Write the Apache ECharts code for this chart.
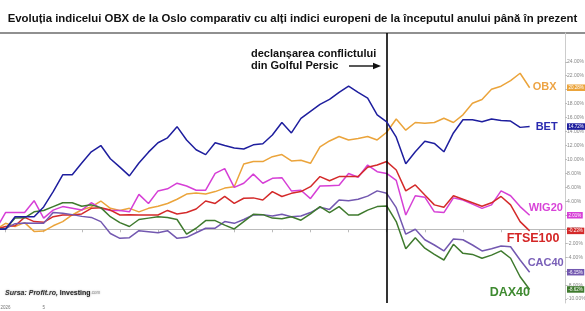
<!DOCTYPE html>
<html><head><meta charset="utf-8">
<script src="https://cdn.jsdelivr.net/npm/echarts@6/dist/echarts.min.js"></script>
<style>html,body{margin:0;padding:0;background:#fff}#c{width:585px;height:311px}</style>
</head><body><div id="c"></div>
<script>
// ---- data (index = trading day since start of year) ----
const seriesNames = ['OBX', 'BET', 'WIG20', 'FTSE100', 'CAC40', 'DAX40'];
const obx = [0, 0.86, 0.4, 0.95, -0.3, -0.25, 0.5, 1.1, 2.05, 2.8, 3.2, 4.05, 3.0, 2.7, 3.0,
  2.5, 3.0, 3.3, 3.7, 4.3, 5.05, 5.2, 5.05, 5.4, 5.9, 6.1, 9.35, 9.7, 9.7,
  10.4, 10.7, 9.8, 9.9, 9.45, 11.8, 12.65, 13.3, 12.8, 13.0, 13.3, 12.8, 13.9, 15.8,
  14.2, 15.3, 15.2, 15.3, 15.9, 15.3, 16.4, 18.05, 18.6, 20.05, 20.5, 21.3, 22.35, 20.28];
const bet = [0, 0, 1.8, 1.8, 1.8, 3.2, 5.4, 7.8, 7.8, 9.5, 11.1, 12.0, 10.1, 8.9, 7.65,
  9.5, 11.05, 12.4, 13.1, 14.7, 12.8, 11.4, 10.7, 12.4, 12.0, 11.65, 11.5, 12.1, 12.25,
  13.5, 15.3, 13.8, 15.9, 16.9, 17.9, 18.6, 19.6, 20.5, 19.6, 18.8, 16.4, 15.4, 13.2,
  9.4, 11.1, 12.6, 12.3, 11.1, 13.8, 15.7, 15.7, 15.4, 15.8, 15.6, 15.5, 14.6, 14.72];
const wig20 = [0, 2.4, 2.4, 2.4, 4.1, 1.6, 2.75, 3.25, 3.0, 2.75, 3.8, 3.0, 2.7, 2.7, 2.5,
  5.0, 3.7, 5.5, 5.8, 6.6, 6.2, 5.6, 5.6, 8.0, 8.7, 6.0, 6.6, 7.9, 6.6,
  7.3, 7.4, 5.5, 5.6, 4.4, 6.2, 6.25, 6.3, 8.0, 7.45, 9.2, 8.25, 8.0, 7.0,
  2.05, 4.8, 4.6, 2.5, 2.4, 4.5, 4.2, 3.6, 3.0, 3.5, 5.5, 4.8, 3.25, 2.01];
const ftse100 = [0, 0.4, 0.5, 1.7, 1.1, 1.0, 1.8, 2.05, 2.05, 2.2, 3.0, 3.1, 2.75, 2.05, 2.1,
  2.05, 2.05, 2.05, 2.7, 2.2, 2.4, 2.9, 4.05, 3.7, 4.7, 3.7, 4.45, 4.5, 4.2,
  5.4, 4.7, 5.15, 5.4, 6.1, 7.55, 6.95, 7.55, 7.55, 7.55, 8.9, 9.2, 9.7, 8.5,
  5.5, 6.35, 4.9, 3.5, 3.15, 4.8, 4.3, 3.8, 3.3, 3.8, 4.7, 3.5, 1.1, -0.23];
const cac40 = [0, 0.1, 0.8, 0.9, 0.85, 0.85, 2.4, 2.3, 2.1, 1.85, 1.7, 1.1, -0.6, -1.3, -1.2,
  -0.2, -0.35, -0.5, -0.2, -1.3, -1.15, -0.5, 0.15, 0.15, 1.1, 0.85, 1.4, 2.05, 2.1,
  1.9, 2.15, 1.8, 1.9, 2.4, 3.15, 2.85, 4.2, 4.1, 4.3, 4.75, 5.5, 5.15, 3.1,
  -0.7, 0.0, -1.5, -2.25, -3.1, -1.4, -1.5, -2.25, -3.1, -2.8, -2.4, -2.5, -4.4, -6.15];
const dax40 = [0, 0.05, 1.6, 1.65, 2.5, 2.7, 3.25, 3.8, 3.8, 3.3, 3.5, 3.1, 1.8, 0.95, 0.4,
  1.4, 1.6, 1.8, 1.7, 1.4, -0.7, 0.15, 1.25, 1.25, 0.6, 0.05, 1.1, 2.15, 2.1,
  1.6, 1.5, 1.8, 1.3, 2.2, 3.25, 2.4, 3.25, 2.05, 2.05, 2.75, 3.25, 3.35, 1.1,
  -2.8, -1.2, -2.7, -3.6, -4.4, -2.15, -3.45, -3.6, -4.15, -3.7, -3.1, -4.15, -6.8, -8.62];
const conflictIndex = 41;
const xTickIndex = [1, 5, 9, 13, 17, 21, 25, 29, 33, 37, 41, 45, 49, 53, 57];
const xTickLabels = ['2026', '5'];
const yTickValues = [-10, -8, -6, -4, -2, 0, 2, 4, 6, 8, 10, 12, 14, 16, 18, 20, 22, 24];
const title = 'Evoluția indicelui OBX de la Oslo comparativ cu alți indici europeni de la începutul anului până în prezent';
const noteLines = ['declanșarea conflictului', 'din Golful Persic'];

// ---- styles ----
const allValues = [obx, bet, wig20, ftse100, cac40, dax40];
const colors = ['#EBA43B', '#1E1E9E', '#D63FD6', '#D42A2A', '#7358B0', '#3F7A2E'];
const labelColors = ['#EDA445', '#2A2AB0', '#D844D8', '#D42626', '#7A60B8', '#3E8A30'];
const labelOffsets = [[3, -1], [6, 0], [-1, -7], [-23, 8], [-2, -9], [-40, 3.5]];
const labelSizes = [11, 11, 11, 12.5, 11, 12.5];
const FF = '"Liberation Sans", Arial, sans-serif';

const chart = echarts.init(document.getElementById('c'), null, {renderer: 'canvas'});
const lastVals = allValues.map(a => a[a.length - 1]);
const rich = {};
colors.forEach((c, i) => {
  rich['s' + i] = {backgroundColor: c, color: '#fff', fontSize: 4.5, fontFamily: FF, padding: [1, 1.5, 0.5, 1.5], lineHeight: 6};
});

const series = allValues.map((arr, i) => ({
  name: seriesNames[i],
  type: 'line',
  data: arr.map((v, j) => [j, v]),
  symbol: 'none',
  showSymbol: false,
  z: i === 1 ? 5 : 3,
  lineStyle: {color: colors[i], width: 1.5},
  itemStyle: {color: colors[i]},
  emphasis: {disabled: true},
  endLabel: {
    show: true,
    formatter: seriesNames[i],
    color: labelColors[i],
    fontSize: labelSizes[i],
    fontWeight: 'bold',
    fontFamily: FF,
    distance: 0,
    align: 'left',
    verticalAlign: 'middle',
    offset: labelOffsets[i]
  },
  markLine: i === 0 ? {
    silent: true,
    symbol: ['none', 'none'],
    label: {show: false},
    lineStyle: {color: '#000', width: 1.6, type: 'solid'},
    emphasis: {disabled: true},
    data: [{xAxis: conflictIndex}]
  } : undefined
}));

const option = {
  animation: false,
  backgroundColor: '#fff',
  title: {
    text: title, left: 'center', top: 8,
    textStyle: {fontSize: 11.4, fontWeight: 'bold', color: '#111', fontFamily: FF}
  },
  grid: {left: 0, right: 20, top: 33, bottom: 8, containLabel: false, outerBoundsMode: 'none'},
  xAxis: {
    type: 'value', min: 0.42, max: 59.71,
    axisLine: {show: true, lineStyle: {color: '#bbb', width: 1}},
    axisTick: {show: true, length: 3, lineStyle: {color: '#bbb'}, customValues: xTickIndex},
    axisLabel: {
      show: true, customValues: xTickIndex.slice(0, xTickLabels.length),
      formatter: v => xTickLabels[xTickIndex.indexOf(v)] || '',
      fontSize: 4.5, color: '#777', margin: 2, fontFamily: FF
    },
    splitLine: {show: false}
  },
  yAxis: [{
    type: 'value', position: 'right', min: -10.56, max: 28.12,
    axisLine: {show: true, lineStyle: {color: '#ccc', width: 1}},
    axisTick: {show: true, length: 2, lineStyle: {color: '#bbb'}, customValues: yTickValues},
    axisLabel: {
      show: true, customValues: yTickValues,
      formatter: v => v.toFixed(2) + '%',
      fontSize: 5, color: '#888', margin: 2, fontFamily: FF
    },
    splitLine: {show: false}
  }, {
    type: 'value', position: 'right', min: -10.56, max: 28.12,
    axisLine: {show: false}, axisTick: {show: false}, splitLine: {show: false},
    axisLabel: {
      show: true, customValues: lastVals, margin: 2,
      formatter: v => {
        const i = lastVals.indexOf(v);
        return '{s' + i + '|' + v.toFixed(2) + '%}';
      },
      rich: rich
    }
  }],
  series: series,
  graphic: [
    {type: 'line', shape: {x1: 0, y1: 33, x2: 585, y2: 33}, style: {stroke: '#222', lineWidth: 1.2}, silent: true},
    {type: 'text', x: 251, y: 54, style: {text: noteLines[0], fontSize: 11, fontWeight: 'bold', fontFamily: FF, fill: '#111', align: 'left', verticalAlign: 'middle'}},
    {type: 'text', x: 251, y: 66, style: {text: noteLines[1], fontSize: 11, fontWeight: 'bold', fontFamily: FF, fill: '#111', align: 'left', verticalAlign: 'middle'}},
    {type: 'polyline', shape: {points: [[349, 66], [376, 66]]}, style: {stroke: '#111', lineWidth: 1.4}},
    {type: 'polygon', shape: {points: [[381, 66], [373, 62.8], [373, 69.2]]}, style: {fill: '#111'}},
    {type: 'text', x: 5, y: 293, style: {
      text: '{a|Sursa: Profit.ro, }{b|Investing}{c|.com}',
      verticalAlign: 'middle', align: 'left',
      textShadowColor: 'rgba(0,0,0,0.35)', textShadowBlur: 2,
      rich: {
        a: {fontSize: 7, fontWeight: 'bold', fontStyle: 'italic', fill: '#333', fontFamily: FF},
        b: {fontSize: 7, fontWeight: 'bold', fill: '#222', fontFamily: FF},
        c: {fontSize: 4.5, fill: '#999', fontFamily: FF}
      }
    }}
  ]
};
chart.setOption(option);
</script>
</body></html>
